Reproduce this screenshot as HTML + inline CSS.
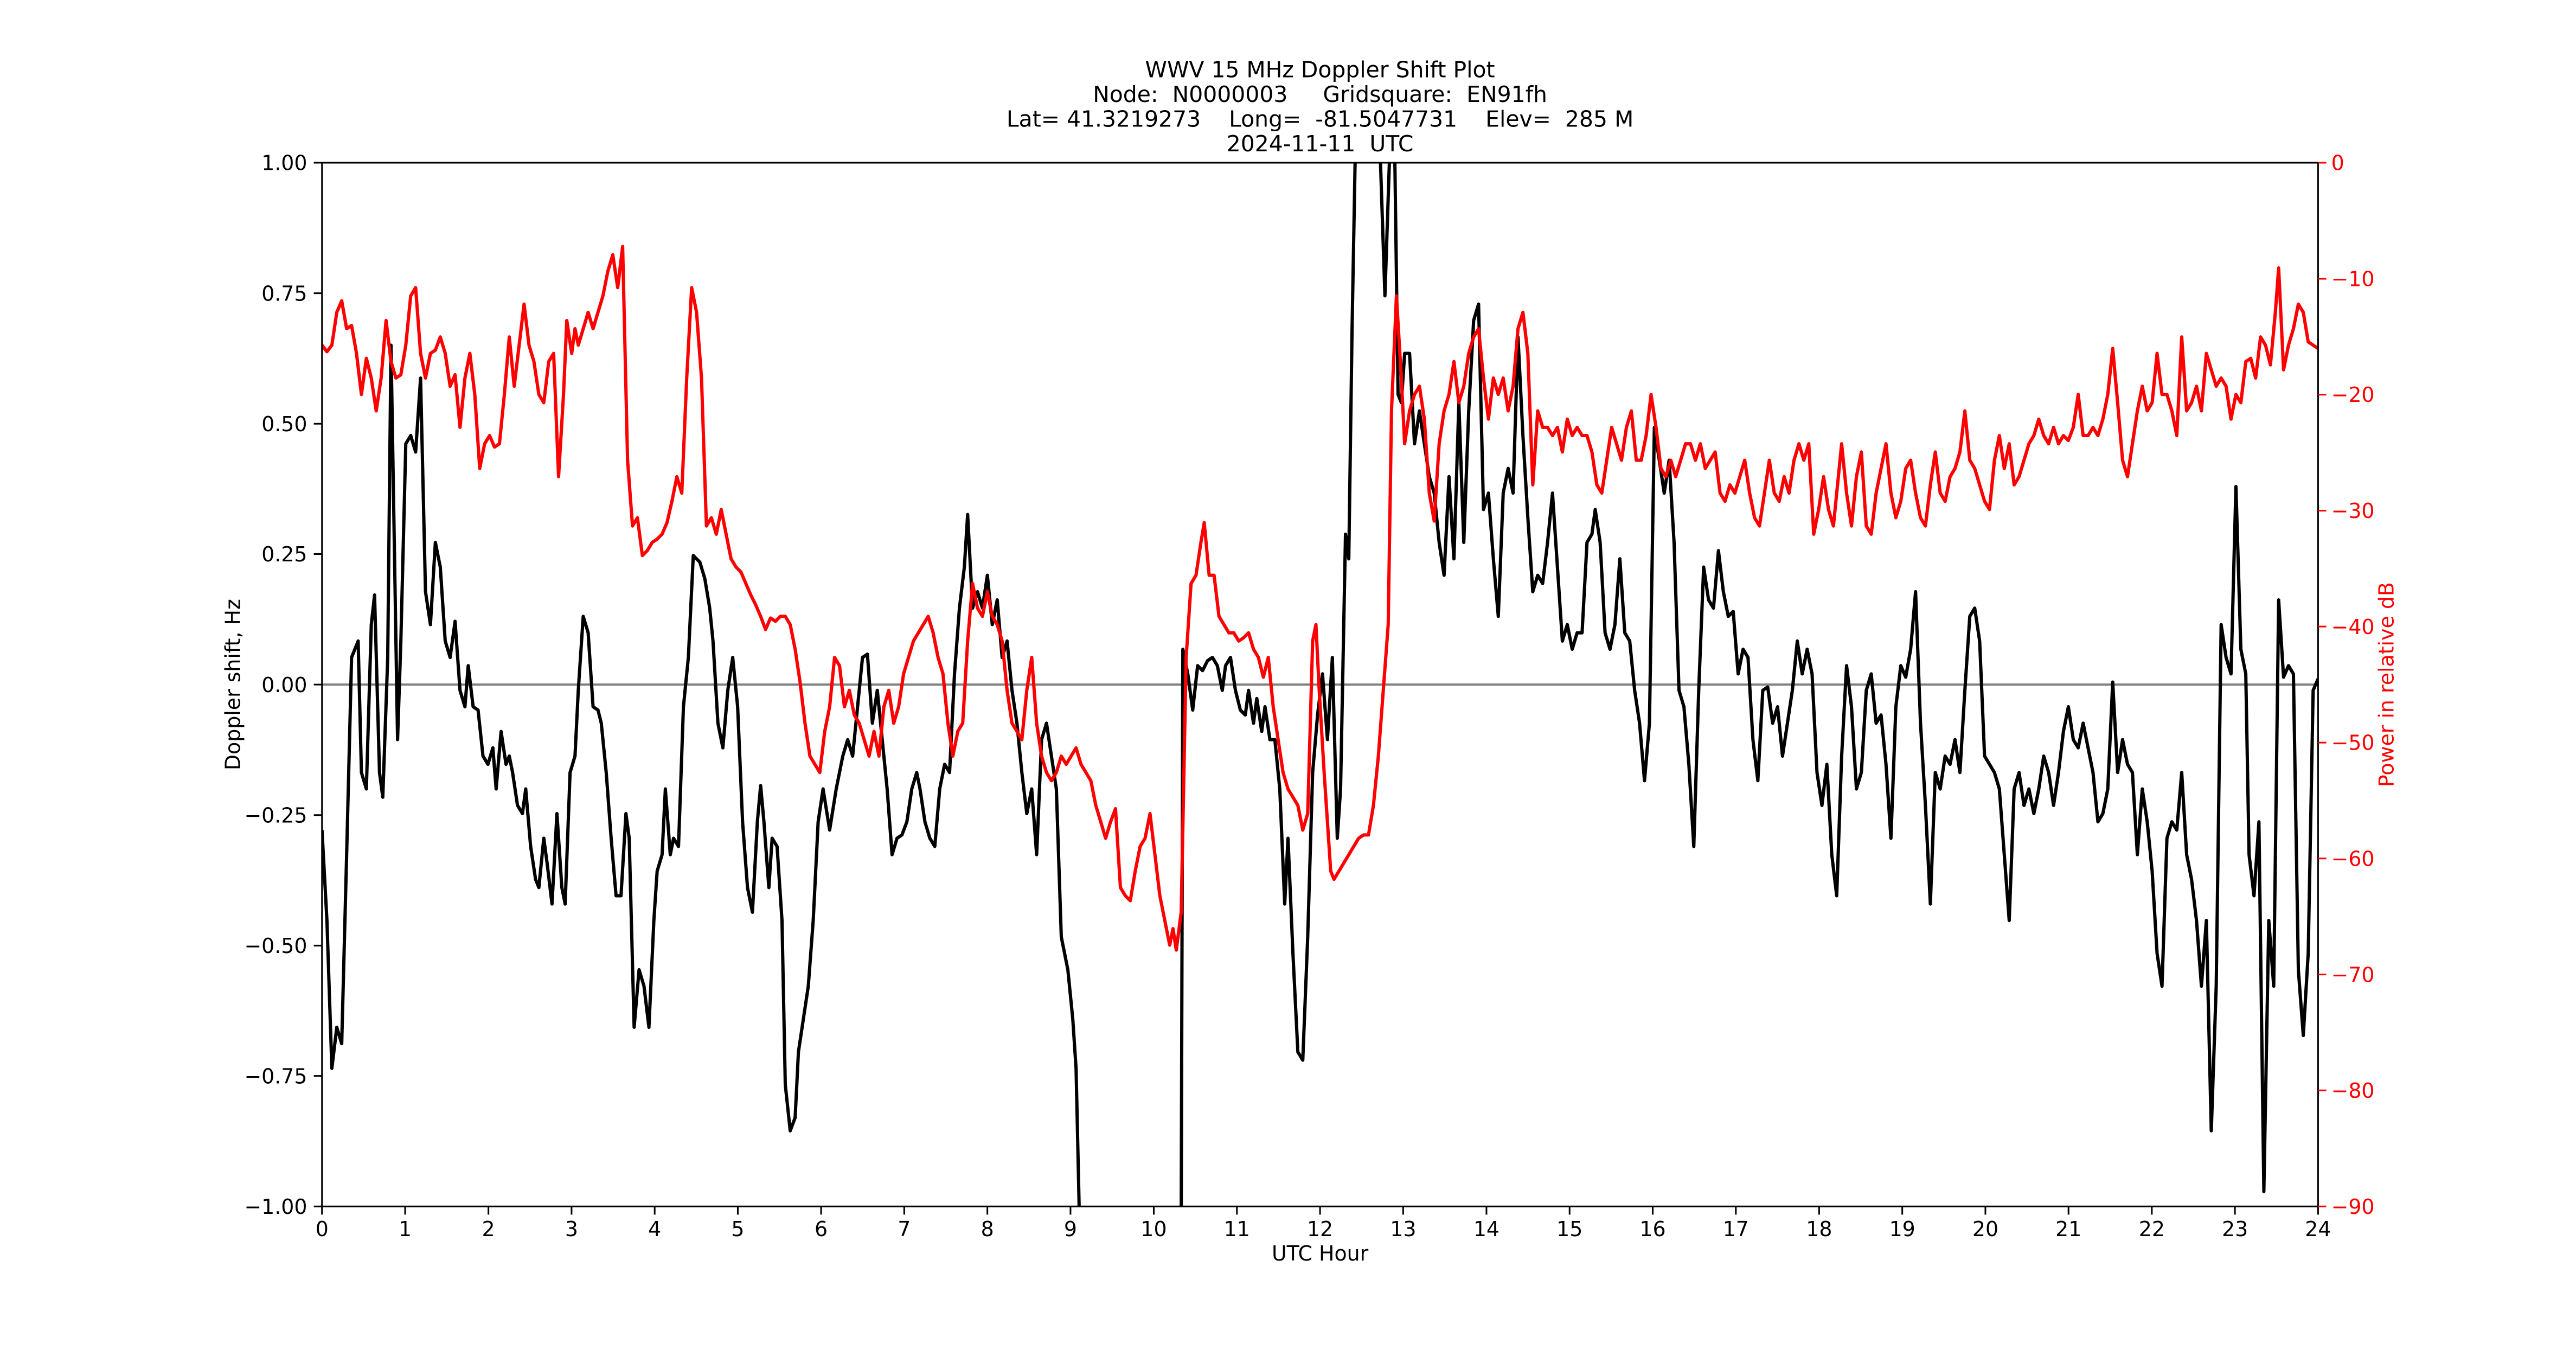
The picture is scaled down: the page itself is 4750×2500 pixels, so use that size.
<!DOCTYPE html>
<html><head><meta charset="utf-8"><style>html,body{margin:0;padding:0;background:#fff}svg{display:block}.pre{white-space:pre}</style></head>
<body>
<svg width="4750" height="2500" viewBox="0 0 1568 825" preserveAspectRatio="none" xmlns="http://www.w3.org/2000/svg" font-family="'DejaVu Sans','Liberation Sans',sans-serif">
<rect width="1568" height="825" fill="#fff"/>
<defs><clipPath id="c"><rect x="196" y="99" width="1215" height="635"/></clipPath></defs>
<g font-size="13.5" text-anchor="middle" fill="#000" xml:space="preserve">
<text class="pre" x="803.5" y="47">WWV 15 MHz Doppler Shift Plot</text>
<text class="pre" x="803.5" y="62">Node:  N0000003     Gridsquare:  EN91fh</text>
<text class="pre" x="803.5" y="77">Lat= 41.3219273    Long=  -81.5047731    Elev=  285 M</text>
<text class="pre" x="803.5" y="92">2024-11-11  UTC</text>
</g>
<line x1="196" y1="416.5" x2="1411" y2="416.5" stroke="#808080" stroke-width="1.3"/>
<g clip-path="url(#c)" fill="none" stroke-linejoin="round">
<polyline stroke="#000" stroke-width="2" points="196,505 199,560 202,650 205,625 208,635 211,520 214,400 218,390 220,470 223,480 226,380 228,362 231,470 233,485 236,400 238,210 240,330 242,450 244,390 247,270 250,265 253,275 256,230 259,360 262,380 265,330 268,345 271,390 274,400 277,378 280,420 283,430 285,405 288,430 291,432 294,460 297,465 300,455 302,480 305,445 308,465 310,460 312,470 315,490 318,495 320,480 323,515 326,535 328,540 331,510 333,525 336,550 339,495 342,540 344,550 347,470 350,460 352,420 355,375 358,385 361,430 364,432 366,440 369,470 372,510 375,545 378,545 381,495 383,510 386,625 389,590 392,600 395,625 398,560 400,530 403,520 405,480 408,520 410,510 413,515 416,430 419,400 422,338 426,342 429,352 432,370 434,390 437,440 440,455 443,420 446,400 449,430 452,500 455,540 458,555 461,500 463,478 465,500 468,540 470,510 473,515 476,560 478,660 481,688 484,680 486,640 489,620 492,600 495,560 498,500 501,480 505,505 509,480 513,460 516,450 519,460 522,430 525,400 528,398 531,440 534,420 537,450 540,480 543,520 546,510 549,508 552,500 555,480 558,470 560,480 563,500 566,510 569,515 572,480 575,465 578,470 581,410 584,370 587,345 589,313 592,370 595,360 598,370 601,350 604,380 607,365 610,400 613,390 616,420 619,440 622,470 625,495 628,480 631,520 634,450 637,440 640,460 643,480 646,570 650,590 653,620 655,650 657,740"/>
<polyline stroke="#000" stroke-width="2" points="719,740 720,395 723,410 726,432 729,405 732,408 735,402 738,400 741,405 744,420 746,405 749,400 752,420 755,432 758,435 760,420 763,440 765,425 768,445 770,430 773,450 776,450 779,480 782,550 784,510 787,580 790,640 793,645 796,570 799,470 802,435 805,410 808,450 811,400 814,510 816,480 819,325 821,340 823,200 825,90 840,90 843,180 846,90 849,95 851,240 853,245 855,215 858,215 861,270 864,250 867,270 870,290 873,300 876,330 879,350 882,290 885,340 888,245 891,330 894,250 897,195 900,185 903,310 906,300 909,340 912,375 915,300 918,285 921,300 924,205 927,265 930,315 933,360 936,350 939,355 942,330 945,300 948,345 951,390 954,380 957,395 960,385 963,385 966,330 969,325 971,310 974,330 977,385 980,395 983,380 986,340 989,385 992,390 995,420 998,440 1001,475 1004,440 1007,260 1010,280 1013,300 1016,280 1019,330 1022,420 1025,430 1028,465 1031,515 1034,420 1037,345 1040,365 1043,370 1046,335 1049,360 1052,375 1055,372 1058,410 1061,395 1064,400 1067,450 1070,475 1073,420 1076,418 1079,440 1082,430 1085,460 1088,440 1091,420 1094,390 1097,410 1100,395 1103,410 1106,470 1109,490 1112,465 1115,520 1118,545 1121,460 1124,405 1127,430 1130,480 1133,470 1136,420 1139,410 1142,440 1145,435 1148,465 1151,510 1154,430 1157,405 1160,412 1163,395 1166,360 1169,440 1172,490 1175,550 1178,470 1181,480 1184,460 1187,465 1190,450 1193,470 1196,420 1199,375 1202,370 1205,390 1208,460 1211,465 1214,470 1217,480 1220,520 1223,560 1226,480 1229,470 1232,490 1235,480 1238,495 1241,480 1244,460 1247,470 1250,490 1253,470 1256,445 1259,430 1262,450 1265,455 1268,440 1271,455 1274,470 1277,500 1280,495 1283,480 1286,415 1289,470 1292,450 1295,465 1298,470 1301,520 1304,480 1307,500 1310,530 1313,580 1316,600 1319,510 1322,500 1325,505 1328,470 1331,520 1334,535 1337,560 1340,600 1343,560 1346,688 1349,600 1352,380 1355,400 1358,410 1361,296 1364,395 1367,410 1369,520 1372,545 1375,500 1378,725 1381,560 1384,600 1387,365 1390,412 1393,405 1396,410 1399,590 1402,630 1405,580 1408,420 1411,413"/>
<polyline stroke="#ff0000" stroke-width="2" points="196,210 199,214 202,210 205,190 208,183 211,200 214,198 217,215 220,240 223,218 226,230 229,250 232,230 235,195 238,220 241,230 244,228 247,210 250,180 253,175 256,215 259,230 262,215 265,213 268,205 271,215 274,235 277,228 280,260 283,230 286,215 289,240 292,285 295,270 298,265 301,272 304,270 307,240 310,205 313,235 316,210 319,185 322,210 325,220 328,240 331,245 334,220 337,215 340,290 343,240 345,195 348,215 350,200 352,210 355,200 358,190 361,200 364,190 367,180 370,165 373,155 376,175 379,150 382,280 385,320 388,315 391,338 394,335 397,330 400,328 403,325 406,318 409,305 412,290 415,300 418,230 421,175 424,190 427,230 430,320 433,315 436,325 439,310 442,325 445,340 448,345 451,348 454,355 457,362 460,368 463,375 466,383 469,376 472,378 475,375 478,375 481,380 484,395 487,415 490,440 493,460 496,465 499,470 502,445 505,430 508,400 511,405 514,430 517,420 520,435 523,440 526,450 529,460 532,445 535,460 538,430 541,420 544,440 547,430 550,410 553,400 556,390 559,385 562,380 565,375 568,385 571,400 574,410 577,440 580,460 583,445 586,440 589,390 592,355 595,370 598,375 601,360 604,375 607,380 610,390 613,420 616,440 619,445 622,450 625,420 628,400 631,440 634,460 637,470 640,475 643,470 646,460 649,465 652,460 655,455 658,465 661,470 664,475 667,490 670,500 673,510 676,500 679,492 682,540 685,545 688,548 691,530 694,515 697,510 700,495 703,520 706,545 709,560 712,575 714,565 716,578 719,555 722,400 725,355 728,350 731,330 733,318 736,350 739,350 742,375 745,380 748,385 751,385 754,390 757,388 760,385 763,395 766,400 769,412 772,400 775,430 778,450 781,470 784,480 787,485 790,490 793,505 796,495 799,390 801,380 803,420 806,470 808,500 810,530 812,535 815,530 818,525 821,520 824,515 827,510 830,508 833,508 836,490 839,460 842,420 845,380 847,250 850,180 853,230 855,270 858,250 861,240 864,235 867,255 870,300 873,317 876,270 879,250 882,240 885,220 888,245 891,235 894,215 897,205 900,200 903,230 906,255 909,230 912,240 915,230 918,250 921,235 924,200 927,190 930,215 933,295 936,250 939,260 942,260 945,265 948,260 951,275 954,255 957,265 960,260 963,265 966,265 969,275 972,295 975,300 978,280 981,260 984,270 987,280 990,260 993,250 996,280 999,280 1002,265 1005,240 1008,260 1011,285 1014,290 1017,280 1020,290 1023,280 1026,270 1029,270 1032,280 1035,270 1038,285 1041,280 1044,275 1047,300 1050,305 1053,295 1056,300 1059,290 1062,280 1065,300 1068,315 1071,320 1074,300 1077,280 1080,300 1083,305 1086,290 1089,300 1092,280 1095,270 1098,280 1101,270 1104,325 1107,310 1110,290 1113,310 1116,320 1119,290 1121,270 1124,300 1127,320 1130,290 1133,275 1136,320 1139,325 1142,300 1145,285 1148,270 1151,300 1154,315 1157,305 1160,285 1163,280 1166,300 1169,315 1172,320 1175,295 1178,275 1181,300 1184,305 1187,290 1190,285 1193,275 1196,250 1199,280 1202,285 1205,295 1208,305 1211,310 1214,280 1217,265 1220,285 1223,270 1226,295 1229,290 1232,280 1235,270 1238,265 1241,255 1244,265 1247,270 1250,260 1253,270 1256,265 1259,268 1262,260 1265,240 1268,265 1271,265 1274,260 1277,265 1280,255 1283,240 1286,212 1289,245 1292,280 1295,290 1298,270 1301,250 1304,235 1307,250 1310,245 1313,215 1316,240 1319,240 1322,250 1325,265 1328,205 1331,250 1334,245 1337,235 1340,250 1343,215 1346,225 1349,235 1352,230 1355,235 1358,255 1361,240 1364,245 1367,220 1370,218 1373,230 1376,205 1379,210 1382,222 1385,190 1387,163 1390,225 1393,210 1396,200 1399,185 1402,190 1405,208 1408,210 1411,212"/>
</g>
<rect x="196" y="99" width="1215" height="635" fill="none" stroke="#000" stroke-width="1"/>
<g stroke="#000" stroke-width="1">
<path d="M196,734v5M246.6,734v5M297.3,734v5M347.9,734v5M398.5,734v5M449.1,734v5M499.8,734v5M550.4,734v5M601,734v5M651.6,734v5M702.3,734v5M752.9,734v5M803.5,734v5M854.1,734v5M904.8,734v5M955.4,734v5M1006,734v5M1056.6,734v5M1107.3,734v5M1157.9,734v5M1208.5,734v5M1259.1,734v5M1309.8,734v5M1360.4,734v5M1411,734v5"/>
<path d="M196,99h-5M196,178.4h-5M196,257.8h-5M196,337.1h-5M196,416.5h-5M196,495.9h-5M196,575.3h-5M196,654.6h-5M196,734h-5"/>
</g>
<g stroke="#ff0000" stroke-width="1"><path d="M1411,99h5M1411,169.6h5M1411,240.1h5M1411,310.7h5M1411,381.2h5M1411,451.8h5M1411,522.3h5M1411,592.9h5M1411,663.4h5M1411,734h5"/></g>
<g font-size="12.5" text-anchor="middle" fill="#000">
<text x="196" y="752">0</text><text x="246.6" y="752">1</text><text x="297.3" y="752">2</text><text x="347.9" y="752">3</text><text x="398.5" y="752">4</text><text x="449.1" y="752">5</text><text x="499.8" y="752">6</text><text x="550.4" y="752">7</text><text x="601" y="752">8</text><text x="651.6" y="752">9</text><text x="702.3" y="752">10</text><text x="752.9" y="752">11</text><text x="803.5" y="752">12</text><text x="854.1" y="752">13</text><text x="904.8" y="752">14</text><text x="955.4" y="752">15</text><text x="1006" y="752">16</text><text x="1056.6" y="752">17</text><text x="1107.3" y="752">18</text><text x="1157.9" y="752">19</text><text x="1208.5" y="752">20</text><text x="1259.1" y="752">21</text><text x="1309.8" y="752">22</text><text x="1360.4" y="752">23</text><text x="1411" y="752">24</text>
<text x="803.5" y="767">UTC Hour</text>
</g>
<g font-size="12.5" text-anchor="end" fill="#000">
<text x="187" y="103.5">1.00</text><text x="187" y="183">0.75</text><text x="187" y="262.3">0.50</text><text x="187" y="341.6">0.25</text><text x="187" y="421">0.00</text><text x="187" y="500.4">−0.25</text><text x="187" y="579.8">−0.50</text><text x="187" y="659.1">−0.75</text><text x="187" y="738.5">−1.00</text>
</g>
<g font-size="12.5" text-anchor="start" fill="#ff0000">
<text x="1419" y="103.5">0</text><text x="1419" y="174">−10</text><text x="1419" y="244.6">−20</text><text x="1419" y="315.2">−30</text><text x="1419" y="385.7">−40</text><text x="1419" y="456.3">−50</text><text x="1419" y="526.8">−60</text><text x="1419" y="597.4">−70</text><text x="1419" y="667.9">−80</text><text x="1419" y="738.5">−90</text>
</g>
<text x="146" y="416.5" font-size="12.5" text-anchor="middle" transform="rotate(-90 146 416.5)">Doppler shift, Hz</text>
<text x="1457" y="416.5" font-size="12.5" fill="#ff0000" text-anchor="middle" transform="rotate(-90 1457 416.5)">Power in relative dB</text>
</svg>
</body></html>
